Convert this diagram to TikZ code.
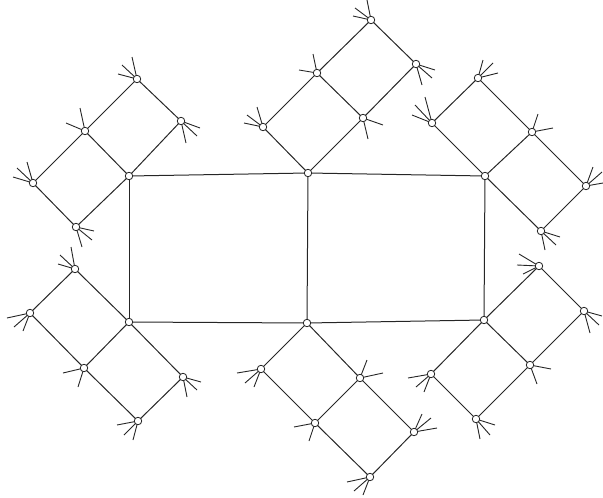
\documentclass[tikz,border=0pt]{standalone}
\begin{document}
\begin{tikzpicture}[x=1pt,y=-1pt,
  vtx/.style={circle,draw=black!85,fill=white,line width=0.8pt,inner sep=0pt,minimum size=7.5pt},
  edge/.style={draw=black!85,line width=1pt},
  whisk/.style={draw=black!85,line width=0.9pt}]
\useasboundingbox (0,0) rectangle (603,498);
% vertex positions
\foreach \n/\x/\y in {A/129/176,B/308/173,C/485/176,D/129/322,E/307/323,F/484/320,
  P1/85/131,P2/137/79,P3/181/121,P4/33/183,P5/76/227,
  Q1/317/73,Q2/371/20,Q3/416/64,Q4/363/118,Q5/263/127,
  R1/432/123,R2/478/78,R3/532/132,R4/586/186,R5/541/231,
  S1/75/269,S2/30/313,S3/84/368,S4/138/421,S5/183/377,
  T1/261/369,T2/360/378,T3/315/423,T4/414/432,T5/370/477,
  U1/539/266,U2/584/311,U3/530/365,U4/431/374,U5/476/419}
  \coordinate (\n) at (\x,\y);
% central grid
\foreach \a/\b in {A/B,B/C,D/E,E/F,A/D,B/E,C/F}
  \draw[edge] (\a) -- (\b);
% gadgets
\foreach \a/\b in {A/P1,P1/P2,P2/P3,P3/A,P1/P4,P4/P5,P5/A,
  B/Q5,B/Q4,Q5/Q1,Q1/Q4,Q1/Q2,Q2/Q3,Q3/Q4,
  C/R1,R1/R2,R2/R3,R3/C,R3/R4,R4/R5,R5/C,
  D/S1,S1/S2,S2/S3,S3/D,S3/S4,S4/S5,S5/D,
  E/T1,E/T2,T1/T3,T2/T3,T2/T4,T3/T5,T4/T5,
  F/U1,U1/U2,U2/U3,U3/F,U3/U5,U5/U4,U4/F}
  \draw[edge] (\a) -- (\b);
% whiskers
\foreach \n/\x/\y in {
  P2/118/74,P2/122/65,P2/132/57,
  P3/200/128,P3/197/136,P3/186/143,
  P1/66/123,P1/80/108,
  P4/13/177,P4/17/168,P4/27/162,
  P5/94/231,P5/92/240,P5/82/247,
  Q1/299/70,Q1/313/54,
  Q2/353/16,Q2/355/8,Q2/367/0,
  Q3/435/70,Q3/432/78,Q3/422/85,
  Q4/383/125,Q4/368/139,
  Q5/244/123,Q5/247/115,Q5/257/107,
  R1/412/115,R1/415/105,R1/425/97,
  R2/498/73,R2/493/63,R2/483/60,
  R3/553/128,R3/538/114,
  R4/602/172,R4/603/183,R4/593/167,
  R5/560/237,R5/556/245,R5/545/250,
  S1/58/264,S1/60/255,S1/71/247,
  S2/7/318,S2/14/327,S2/23/331,
  S3/63/373,S3/78/387,
  S4/117/425,S4/124/435,S4/133/440,
  S5/201/382,S5/197/390,S5/187/397,
  T1/237/373,T1/245/383,T1/254/387,
  T2/383/373,T2/367/360,
  T3/294/427,T3/309/441,
  T4/437/428,T4/431/418,T4/422/414,
  T5/347/482,T5/354/491,T5/363/495,
  U1/519/254,U1/517/265,U1/523/274,
  U2/602/316,U2/599/325,U2/590/333,
  U3/551/369,U3/537/384,
  U4/408/378,U4/416/387,U4/424/392,
  U5/495/425,U5/490/435,U5/480/439}
  \draw[whisk] (\n) -- (\x,\y);
% vertex circles
\foreach \n in {A,B,C,D,E,F,P1,P2,P3,P4,P5,Q1,Q2,Q3,Q4,Q5,R1,R2,R3,R4,R5,
  S1,S2,S3,S4,S5,T1,T2,T3,T4,T5,U1,U2,U3,U4,U5}
  \node[vtx] (v\n) at (\n) {};
\end{tikzpicture}
\end{document}
